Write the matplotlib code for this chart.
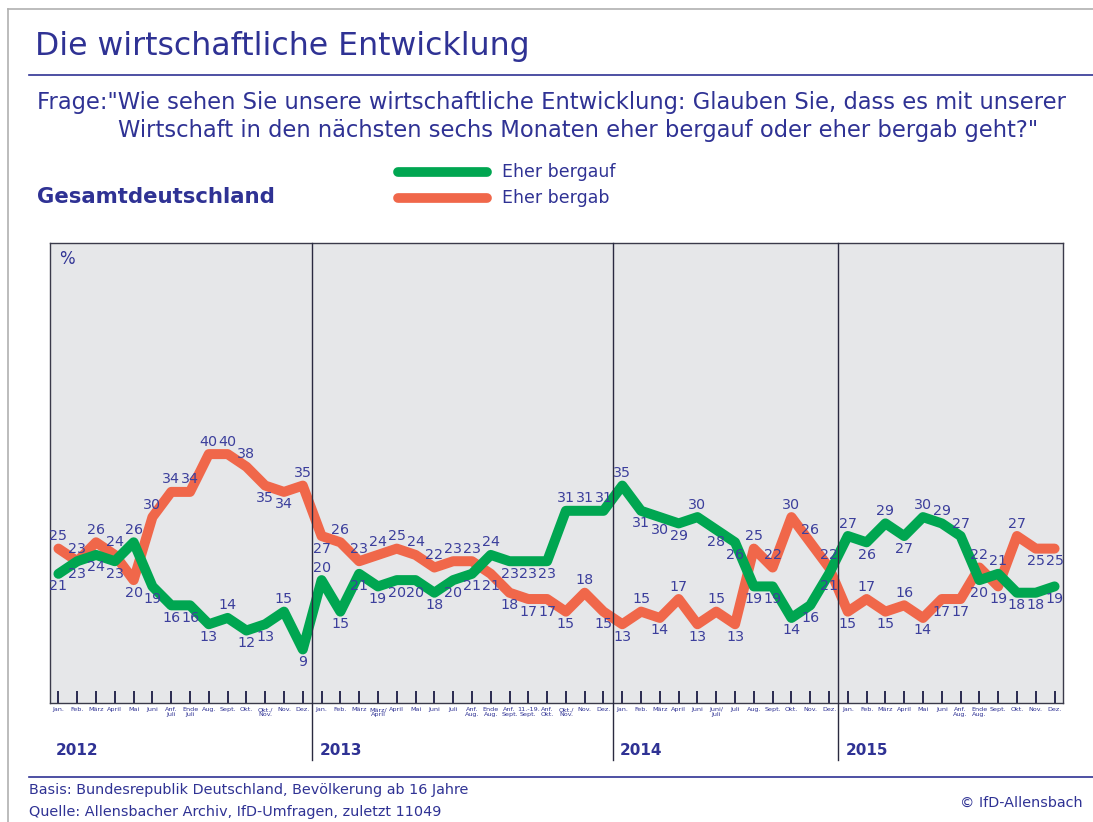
import matplotlib
matplotlib.use("Agg")
import matplotlib.pyplot as plt
from matplotlib.lines import Line2D
import numpy as np

# ---- data -------------------------------------------------------------
years = ["2012", "2013", "2014", "2015"]

months_2012 = ["Jan.", "Feb.", "März", "April", "Mai", "Juni", "Anf.\nJuli", "Ende\nJuli",
               "Aug.", "Sept.", "Okt.", "Okt./\nNov.", "Nov.", "Dez."]
months_2013 = ["Jan.", "Feb.", "März", "März/\nApril", "April", "Mai", "Juni", "Juli",
               "Anf.\nAug.", "Ende\nAug.", "Anf.\nSept.", "11.-19.\nSept.", "Anf.\nOkt.",
               "Okt./\nNov.", "Nov.", "Dez."]
months_2014 = ["Jan.", "Feb.", "März", "April", "Juni", "Juni/\nJuli", "Juli", "Aug.",
               "Sept.", "Okt.", "Nov.", "Dez."]
months_2015 = ["Jan.", "Feb.", "März", "April", "Mai", "Juni", "Anf.\nAug.", "Ende\nAug.",
               "Sept.", "Okt.", "Nov.", "Dez."]

bergauf_2012 = [21, 23, 24, 23, 26, 19, 16, 16, 13, 14, 12, 13, 15, 9]
bergauf_2013 = [20, 15, 21, 19, 20, 20, 18, 20, 21, 24, 23, 23, 23, 31, 31, 31]
bergauf_2014 = [35, 31, 30, 29, 30, 28, 26, 19, 19, 14, 16, 21]
bergauf_2015 = [27, 26, 29, 27, 30, 29, 27, 20, 21, 18, 18, 19]

bergab_2012 = [25, 23, 26, 24, 20, 30, 34, 34, 40, 40, 38, 35, 34, 35]
bergab_2013 = [27, 26, 23, 24, 25, 24, 22, 23, 23, 21, 18, 17, 17, 15, 18, 15]
bergab_2014 = [13, 15, 14, 17, 13, 15, 13, 25, 22, 30, 26, 22]
bergab_2015 = [15, 17, 15, 16, 14, 17, 17, 22, 19, 27, 25, 25]

# label placement (u = above line, d = below line)
pos_bergauf = "ddddudddduddud" + "udddddddduddduuu" + "uddduddddddd" + "ududuuududdd"
pos_bergab = "uuuuduuuuuuddu" + "duuuuuuuudddddud" + "dudududuuuuu" + "dududddududd"

months = months_2012 + months_2013 + months_2014 + months_2015
bergauf = bergauf_2012 + bergauf_2013 + bergauf_2014 + bergauf_2015
bergab = bergab_2012 + bergab_2013 + bergab_2014 + bergab_2015
year_sizes = [len(months_2012), len(months_2013), len(months_2014), len(months_2015)]

# ---- style ------------------------------------------------------------
W, H = 1093, 822
BLUE = "#2f3294"
GREEN = "#00a651"
RED = "#f0674a"
BG = "#e6e7e9"
plt.rcParams["font.family"] = ["DejaVu Sans"]


def fx(px):
    return px / W


def fy(py):
    return 1 - py / H


fig = plt.figure(figsize=(W / 100, H / 100), dpi=100)

# outer grey frame and blue rules
fig.add_artist(Line2D([fx(8), fx(8)], [fy(9), 0], color="#b0b0b0", lw=1.2))
fig.add_artist(Line2D([fx(8), 1], [fy(9), fy(9)], color="#b0b0b0", lw=1.2))
fig.add_artist(Line2D([fx(29), 1], [fy(75), fy(75)], color=BLUE, lw=1.2))
fig.add_artist(Line2D([fx(29), 1], [fy(777), fy(777)], color=BLUE, lw=1.2))

fig.text(fx(35), fy(47), "Die wirtschaftliche Entwicklung", color=BLUE,
         fontsize=22.7, va="center", ha="left")
fig.text(fx(37), fy(103), 'Frage:"Wie sehen Sie unsere wirtschaftliche Entwicklung: Glauben Sie, dass es mit unserer',
         color=BLUE, fontsize=16.3, va="center", ha="left")
fig.text(fx(118), fy(130), 'Wirtschaft in den nächsten sechs Monaten eher bergauf oder eher bergab geht?"',
         color=BLUE, fontsize=16.3, va="center", ha="left")
fig.text(fx(37), fy(197), "Gesamtdeutschland", color=BLUE, fontsize=15.3,
         fontweight="bold", va="center", ha="left")

# legend
fig.add_artist(Line2D([fx(398), fx(487)], [fy(172), fy(172)], color=GREEN,
                      lw=7, solid_capstyle="round"))
fig.add_artist(Line2D([fx(398), fx(487)], [fy(198), fy(198)], color=RED,
                      lw=7, solid_capstyle="round"))
fig.text(fx(502), fy(172), "Eher bergauf", color=BLUE, fontsize=12.5, va="center")
fig.text(fx(502), fy(198), "Eher bergab", color=BLUE, fontsize=12.5, va="center")

# ---- plot area ----------------------------------------------------------
ax = fig.add_axes([fx(50), fy(703), fx(1063) - fx(50), (703 - 243) / H])
ax.set_facecolor(BG)
for s in ax.spines.values():
    s.set_color("#3a3a4a")
    s.set_linewidth(1.0)

x = np.arange(len(months))
ax.plot(x, bergab, color=RED, lw=7.2, solid_joinstyle="round", solid_capstyle="round", zorder=3)
ax.plot(x, bergauf, color=GREEN, lw=7.2, solid_joinstyle="round", solid_capstyle="round", zorder=4)
ax.set_xlim(-0.45, len(months) - 0.55)
ax.set_ylim(0.5, 73.5)

for series, pos in ((bergauf, pos_bergauf), (bergab, pos_bergab)):
    for i, v in enumerate(series):
        off = 9 if pos[i] == "u" else -9
        ax.annotate(str(v), (i, v), xytext=(0, off), textcoords="offset points",
                    ha="center", va="center", fontsize=10.3, color="#3c3f9c", zorder=5)

ax.set_xticks(x)
ax.set_xticklabels(months, fontsize=4.6, color=BLUE, linespacing=0.9)
ax.tick_params(axis="x", direction="in", length=9, width=1.4, color="#2a2a50", pad=3)
ax.set_yticks([])

ax.text(0.009, 0.965, "%", transform=ax.transAxes, color=BLUE, fontsize=12,
        ha="left", va="center")

# year separators and labels
starts = np.cumsum([0] + year_sizes[:-1])
for k, (yr, st) in enumerate(zip(years, starts)):
    if k > 0:
        ax.plot([st - 0.5, st - 0.5], [1, -57 / 460], transform=ax.get_xaxis_transform(),
                color="#2a2a40", lw=1.0, clip_on=False, zorder=6)
    ax.text(st - 0.5 + 0.38, -47 / 460, yr, transform=ax.get_xaxis_transform(),
            color=BLUE, fontsize=11, fontweight="bold", ha="left", va="center")

# footer
fig.text(fx(29), fy(790), "Basis: Bundesrepublik Deutschland, Bevölkerung ab 16 Jahre",
         color=BLUE, fontsize=10.4, va="center")
fig.text(fx(29), fy(812), "Quelle: Allensbacher Archiv, IfD-Umfragen, zuletzt 11049",
         color=BLUE, fontsize=10.4, va="center")
fig.text(fx(1083), fy(803), "© IfD-Allensbach", color=BLUE, fontsize=10.4,
         ha="right", va="center")

fig.savefig("out.png", dpi=100)
